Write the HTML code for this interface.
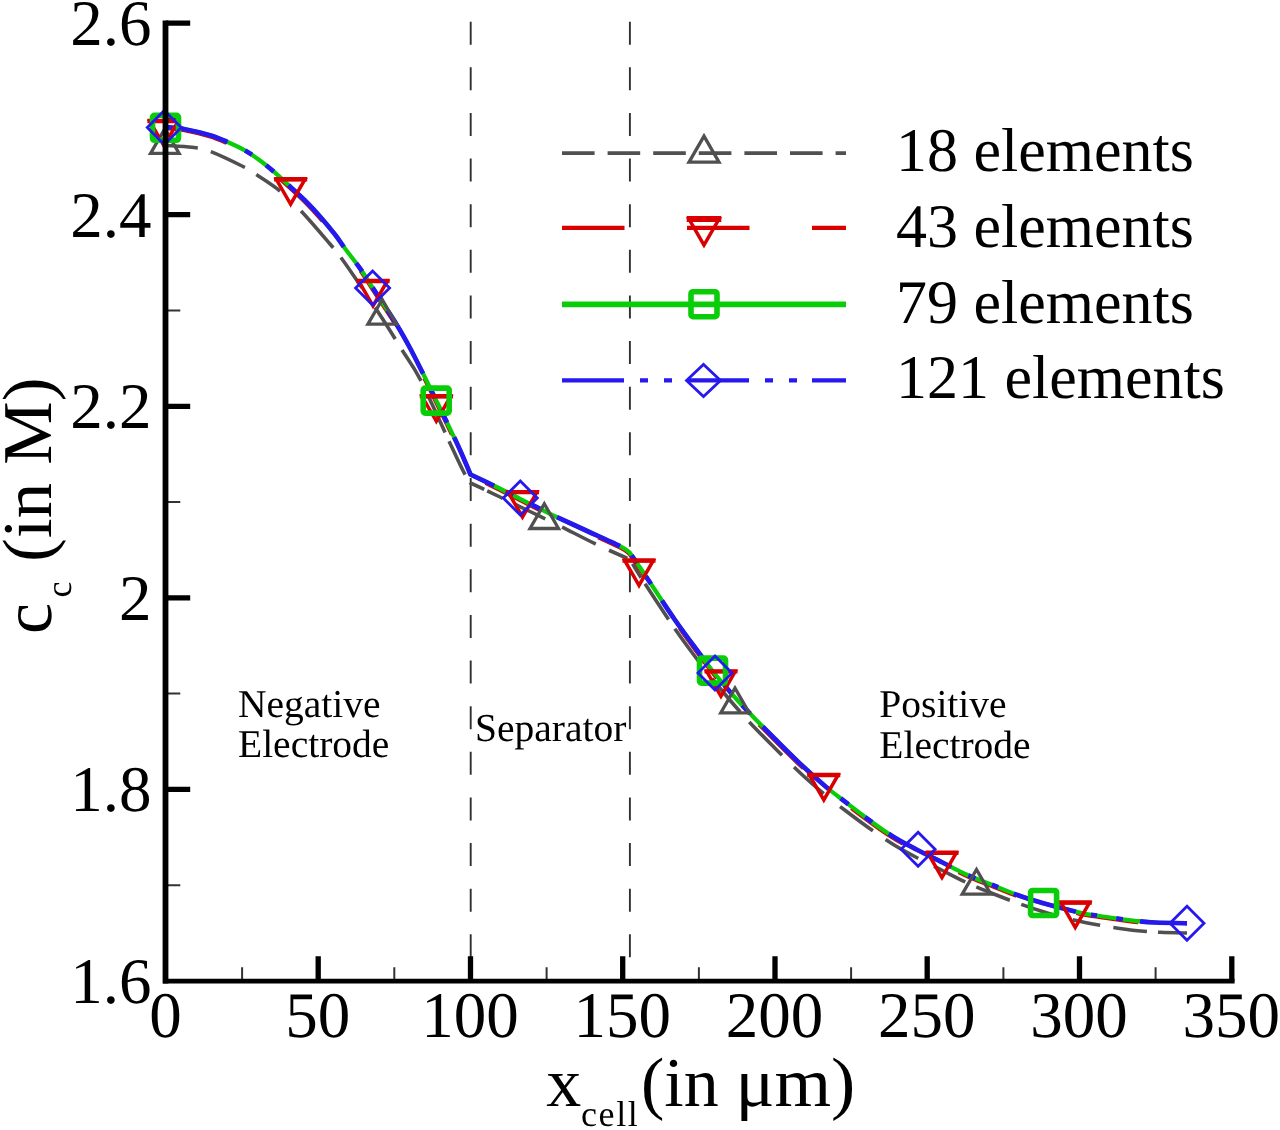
<!DOCTYPE html>
<html lang="en">
<head>
<meta charset="utf-8">
<title>Electrolyte concentration - mesh convergence</title>
<style>
html,body{margin:0;padding:0;background:#fff;}
body{width:1280px;height:1130px;overflow:hidden;font-family:"Liberation Serif",serif;}
svg{display:block;will-change:transform;}
text{font-family:"Liberation Serif",serif;fill:#000;text-rendering:geometricPrecision;}
.tick{font-size:65px;}
.leg{font-size:62px;}
.reg{font-size:39.5px;fill:#1a1a1a;}
.ax{font-size:70px;}
.sub{font-size:36px;}
</style>
</head>
<body>
<svg width="1280" height="1130" viewBox="0 0 1280 1130">
<rect x="0" y="0" width="1280" height="1130" fill="#ffffff"/>
<g stroke="#303030" stroke-width="1.9" fill="none" stroke-dasharray="23 22.63">
<path d="M470.7 21.7V979"/>
<path d="M629.9 21.7V979"/>
</g>
<g stroke="#000" fill="none">
<path d="M166 23.1H190.2M166 214.7H190.2M166 406.3H190.2M166 597.8H190.2M166 789.4H190.2" stroke-width="5.3"/>
<path d="M168 118.9H180.3M168 310.5H180.3M168 502.1H180.3M168 693.6H180.3M168 885.2H180.3" stroke-width="2" stroke="#333"/>
<path d="M318.2 981V956.3M470.5 981V956.3M622.7 981V956.3M775.0 981V956.3M927.2 981V956.3M1079.5 981V956.3M1231.8 981V956.3" stroke-width="5.3"/>
<path d="M242.1 979V967.2M394.3 979V967.2M546.6 979V967.2M698.9 979V967.2M851.1 979V967.2M1003.4 979V967.2M1155.6 979V967.2" stroke-width="2" stroke="#333"/>
</g>
<g class="tick" text-anchor="end">
<text x="151.5" y="44.9">2.6</text>
<text x="151.5" y="236.5">2.4</text>
<text x="151.5" y="428.1">2.2</text>
<text x="151.5" y="619.6">2</text>
<text x="151.5" y="811.2">1.8</text>
<text x="151.5" y="1002.8">1.6</text>
</g>
<g class="tick" text-anchor="middle">
<text x="165.4" y="1037.3">0</text>
<text x="317.7" y="1037.3">50</text>
<text x="470.0" y="1037.3">100</text>
<text x="622.2" y="1037.3">150</text>
<text x="774.5" y="1037.3">200</text>
<text x="926.7" y="1037.3">250</text>
<text x="1079.0" y="1037.3">300</text>
<text x="1231.3" y="1037.3">350</text>
</g>
<g class="reg">
<text x="238" y="716.6">Negative</text>
<text x="238" y="756.8">Electrode</text>
<text x="475" y="740.5">Separator</text>
<text x="879.3" y="717.3">Positive</text>
<text x="879.3" y="757.6">Electrode</text>
</g>
<g class="ax">
<text x="546.2" y="1106">x</text>
<text class="sub" x="581" y="1125.5" letter-spacing="1.6">cell</text>
<text x="641" y="1106">(in</text>
<text transform="translate(735.4 1106) scale(1.04 1)">μm)</text>
</g>
<g class="ax" transform="translate(51.3 634) rotate(-90)">
<text x="0" y="0">c</text>
<text class="sub" x="36.6" y="19.5">c</text>
<text transform="translate(72 0) scale(1.02 1)">(in M)</text>
</g>
<g fill="none" stroke-linejoin="round">
<path d="M166.5 145.5C170.8 145.8 184.8 146.3 192.0 147.3C199.2 148.3 201.7 148.2 210.0 151.3C218.3 154.4 234.2 162.1 242.0 166.0C249.8 169.9 250.7 170.8 257.0 175.0C263.3 179.2 272.5 184.8 280.0 191.0C287.5 197.2 293.7 203.2 302.0 212.0C310.3 220.8 323.3 236.2 330.0 244.0C336.7 251.8 337.0 252.2 342.0 259.0C347.0 265.8 353.3 275.2 360.0 285.0C366.7 294.8 375.0 307.2 382.0 318.0C389.0 328.8 395.7 339.8 402.0 350.0C408.3 360.2 412.2 363.8 420.0 379.0C427.8 394.2 441.8 425.6 449.0 441.0C456.2 456.4 459.9 464.5 463.5 471.5C467.1 478.5 469.3 481.1 470.5 483.0C475.4 485.3 490.1 492.2 500.0 497.0C509.9 501.8 520.0 506.7 530.0 511.5C540.0 516.3 549.2 520.6 560.0 526.0C570.8 531.4 584.7 538.7 595.0 543.7C605.3 548.7 616.2 553.4 622.0 556.0C627.8 558.6 628.7 558.9 630.0 559.5C631.7 562.2 635.8 569.4 640.0 576.0C644.2 582.6 649.2 590.2 655.0 599.0C660.8 607.8 668.3 619.4 675.0 629.0C681.7 638.6 688.5 647.8 695.0 656.5C701.5 665.2 707.3 672.8 714.0 681.0C720.7 689.2 728.2 698.2 735.0 706.0C741.8 713.8 748.3 721.0 755.0 728.0C761.7 735.0 767.5 740.7 775.0 748.2C782.5 755.7 791.7 765.0 800.0 772.8C808.3 780.6 817.5 788.5 825.0 794.8C832.5 801.0 837.9 804.9 845.0 810.3C852.1 815.7 859.6 821.4 867.5 827.0C875.4 832.6 884.2 838.8 892.5 844.0C900.8 849.2 909.2 853.6 917.5 858.0C925.8 862.4 934.2 866.3 942.5 870.5C950.8 874.7 959.2 879.2 967.5 883.0C975.8 886.8 984.2 890.2 992.5 893.5C1000.8 896.8 1009.2 900.0 1017.5 903.0C1025.8 906.0 1034.2 908.9 1042.5 911.5C1050.8 914.1 1060.4 916.7 1067.5 918.5C1074.6 920.3 1077.9 921.1 1085.0 922.5C1092.1 923.9 1101.7 925.7 1110.0 927.0C1118.3 928.3 1126.7 929.6 1135.0 930.5C1143.3 931.4 1151.3 931.9 1160.0 932.3C1168.7 932.7 1182.5 932.9 1187.0 933.0" stroke="#505050" stroke-width="3.6" stroke-dasharray="31.4 13.7 37.2 13.8 28.8 29.0 48.6 12.9 36.9 23.3 37.2 13.3 36.4 16.1 40.7 9.5 37.0 9.4 15.9 3.3 17.2 13.9 33.3 18.9 37.5 14.6 20.0 8.1 16.3 7.4 42.5 11.2 44.5 17.9 43.4 13.4 47.1 16.5 39.9 21.1 40.8 15.2 37.8 17.6 34.9 12.1 36.1 12.2 34.4 19.4 27.9 13.4 34.0 11.0 29.3 50.0"/>
<path d="M166.5 127.2C169.6 127.5 177.8 127.8 185.0 129.2C192.2 130.5 202.9 133.2 210.0 135.3C217.1 137.4 221.7 139.5 227.5 142.0C233.3 144.5 239.6 147.4 245.0 150.5C250.4 153.6 255.0 156.8 260.0 160.5C265.0 164.2 270.0 168.4 275.0 172.7C280.0 177.0 285.0 181.9 290.0 186.5C295.0 191.1 300.0 195.5 305.0 200.5C310.0 205.5 315.0 210.8 320.0 216.5C325.0 222.2 330.8 229.2 335.0 234.5C339.2 239.8 340.8 243.0 345.0 248.6C349.2 254.2 355.4 261.8 360.0 268.3C364.6 274.8 368.3 281.1 372.5 287.5C376.7 293.9 380.8 300.1 385.0 306.5C389.2 312.9 393.3 319.1 397.5 326.0C401.7 332.9 405.8 340.2 410.0 348.0C414.2 355.8 418.3 364.2 422.5 372.5C426.7 380.8 430.8 389.5 435.0 398.0C439.2 406.5 443.3 414.8 447.5 423.5C451.7 432.2 456.2 441.5 460.0 450.0C463.8 458.5 468.8 470.4 470.5 474.5C474.2 476.2 484.2 481.0 492.5 485.0C500.8 489.0 510.4 494.0 520.0 498.8C529.6 503.5 539.2 508.5 550.0 513.8C560.8 519.0 573.3 524.6 585.0 530.0C596.7 535.4 612.6 542.5 620.0 546.2C627.4 550.0 627.9 551.3 629.5 552.3C631.2 554.8 635.8 561.2 640.0 567.5C644.2 573.8 649.2 581.2 655.0 590.0C660.8 598.8 668.3 610.4 675.0 620.0C681.7 629.6 688.5 638.8 695.0 647.5C701.5 656.2 707.1 664.2 713.8 672.5C720.4 680.8 728.1 689.8 735.0 697.5C741.9 705.2 748.3 711.8 755.0 718.7C761.7 725.6 767.5 731.5 775.0 739.0C782.5 746.5 791.7 755.8 800.0 763.6C808.3 771.4 817.5 779.6 825.0 786.0C832.5 792.4 837.9 796.2 845.0 801.7C852.1 807.2 859.6 813.0 867.5 818.8C875.4 824.5 884.2 831.0 892.5 836.2C900.8 841.5 909.2 845.6 917.5 850.0C925.8 854.4 934.2 858.3 942.5 862.5C950.8 866.7 959.2 871.2 967.5 875.0C975.8 878.8 984.2 881.7 992.5 885.0C1000.8 888.3 1009.2 892.0 1017.5 895.0C1025.8 898.0 1034.2 900.6 1042.5 903.0C1050.8 905.4 1060.4 907.7 1067.5 909.5C1074.6 911.3 1077.9 912.4 1085.0 913.8C1092.1 915.1 1101.7 916.3 1110.0 917.5C1118.3 918.7 1127.5 919.9 1135.0 920.8C1142.5 921.6 1146.3 922.1 1155.0 922.5C1163.7 922.9 1181.7 923.2 1187.0 923.3" stroke="#d80000" stroke-width="3.6" stroke-dasharray="62.5 62.5" transform="translate(-0.6 1.3)"/>
<path d="M166.5 127.2C169.6 127.5 177.8 127.8 185.0 129.2C192.2 130.5 202.9 133.2 210.0 135.3C217.1 137.4 221.7 139.5 227.5 142.0C233.3 144.5 239.6 147.4 245.0 150.5C250.4 153.6 255.0 156.8 260.0 160.5C265.0 164.2 270.0 168.4 275.0 172.7C280.0 177.0 285.0 181.9 290.0 186.5C295.0 191.1 300.0 195.5 305.0 200.5C310.0 205.5 315.0 210.8 320.0 216.5C325.0 222.2 330.8 229.2 335.0 234.5C339.2 239.8 340.8 243.0 345.0 248.6C349.2 254.2 355.4 261.8 360.0 268.3C364.6 274.8 368.3 281.1 372.5 287.5C376.7 293.9 380.8 300.1 385.0 306.5C389.2 312.9 393.3 319.1 397.5 326.0C401.7 332.9 405.8 340.2 410.0 348.0C414.2 355.8 418.3 364.2 422.5 372.5C426.7 380.8 430.8 389.5 435.0 398.0C439.2 406.5 443.3 414.8 447.5 423.5C451.7 432.2 456.2 441.5 460.0 450.0C463.8 458.5 468.8 470.4 470.5 474.5C474.2 476.2 484.2 481.0 492.5 485.0C500.8 489.0 510.4 494.0 520.0 498.8C529.6 503.5 539.2 508.5 550.0 513.8C560.8 519.0 573.3 524.6 585.0 530.0C596.7 535.4 612.6 542.5 620.0 546.2C627.4 550.0 627.9 551.3 629.5 552.3C631.2 554.8 635.8 561.2 640.0 567.5C644.2 573.8 649.2 581.2 655.0 590.0C660.8 598.8 668.3 610.4 675.0 620.0C681.7 629.6 688.5 638.8 695.0 647.5C701.5 656.2 707.1 664.2 713.8 672.5C720.4 680.8 728.1 689.8 735.0 697.5C741.9 705.2 748.3 711.8 755.0 718.7C761.7 725.6 767.5 731.5 775.0 739.0C782.5 746.5 791.7 755.8 800.0 763.6C808.3 771.4 817.5 779.6 825.0 786.0C832.5 792.4 837.9 796.2 845.0 801.7C852.1 807.2 859.6 813.0 867.5 818.8C875.4 824.5 884.2 831.0 892.5 836.2C900.8 841.5 909.2 845.6 917.5 850.0C925.8 854.4 934.2 858.3 942.5 862.5C950.8 866.7 959.2 871.2 967.5 875.0C975.8 878.8 984.2 881.7 992.5 885.0C1000.8 888.3 1009.2 892.0 1017.5 895.0C1025.8 898.0 1034.2 900.6 1042.5 903.0C1050.8 905.4 1060.4 907.7 1067.5 909.5C1074.6 911.3 1077.9 912.4 1085.0 913.8C1092.1 915.1 1101.7 916.3 1110.0 917.5C1118.3 918.7 1127.5 919.9 1135.0 920.8C1142.5 921.6 1146.3 922.1 1155.0 922.5C1163.7 922.9 1181.7 923.2 1187.0 923.3" stroke="#0acd0a" stroke-width="4.2"/>
<path d="M166.5 127.2C169.6 127.5 177.8 127.8 185.0 129.2C192.2 130.5 202.9 133.2 210.0 135.3C217.1 137.4 221.7 139.5 227.5 142.0C233.3 144.5 239.6 147.4 245.0 150.5C250.4 153.6 255.0 156.8 260.0 160.5C265.0 164.2 270.0 168.4 275.0 172.7C280.0 177.0 285.0 181.9 290.0 186.5C295.0 191.1 300.0 195.5 305.0 200.5C310.0 205.5 315.0 210.8 320.0 216.5C325.0 222.2 330.8 229.2 335.0 234.5C339.2 239.8 340.8 243.0 345.0 248.6C349.2 254.2 355.4 261.8 360.0 268.3C364.6 274.8 368.3 281.1 372.5 287.5C376.7 293.9 380.8 300.1 385.0 306.5C389.2 312.9 393.3 319.1 397.5 326.0C401.7 332.9 405.8 340.2 410.0 348.0C414.2 355.8 418.3 364.2 422.5 372.5C426.7 380.8 430.8 389.5 435.0 398.0C439.2 406.5 443.3 414.8 447.5 423.5C451.7 432.2 456.2 441.5 460.0 450.0C463.8 458.5 468.8 470.4 470.5 474.5C474.2 476.2 484.2 481.0 492.5 485.0C500.8 489.0 510.4 494.0 520.0 498.8C529.6 503.5 539.2 508.5 550.0 513.8C560.8 519.0 573.3 524.6 585.0 530.0C596.7 535.4 612.6 542.5 620.0 546.2C627.4 550.0 627.9 551.3 629.5 552.3C631.2 554.8 635.8 561.2 640.0 567.5C644.2 573.8 649.2 581.2 655.0 590.0C660.8 598.8 668.3 610.4 675.0 620.0C681.7 629.6 688.5 638.8 695.0 647.5C701.5 656.2 707.1 664.2 713.8 672.5C720.4 680.8 728.1 689.8 735.0 697.5C741.9 705.2 748.3 711.8 755.0 718.7C761.7 725.6 767.5 731.5 775.0 739.0C782.5 746.5 791.7 755.8 800.0 763.6C808.3 771.4 817.5 779.6 825.0 786.0C832.5 792.4 837.9 796.2 845.0 801.7C852.1 807.2 859.6 813.0 867.5 818.8C875.4 824.5 884.2 831.0 892.5 836.2C900.8 841.5 909.2 845.6 917.5 850.0C925.8 854.4 934.2 858.3 942.5 862.5C950.8 866.7 959.2 871.2 967.5 875.0C975.8 878.8 984.2 881.7 992.5 885.0C1000.8 888.3 1009.2 892.0 1017.5 895.0C1025.8 898.0 1034.2 900.6 1042.5 903.0C1050.8 905.4 1060.4 907.7 1067.5 909.5C1074.6 911.3 1077.9 912.4 1085.0 913.8C1092.1 915.1 1101.7 916.3 1110.0 917.5C1118.3 918.7 1127.5 919.9 1135.0 920.8C1142.5 921.6 1146.3 922.1 1155.0 922.5C1163.7 922.9 1181.7 923.2 1187.0 923.3" stroke="#2618ee" stroke-width="4.7" stroke-dasharray="63.1 19.5 8.1 17.8 9.8 20.0 83.4 19.9 10.3 19.4 13.6 13.7 72.5 15.9 11.4 13.6 13.7 16.2 67.0 13.0 8.3 21.3 10.6 17.2 69.1 15.1 9.7 15.7 9.4 19.9 72.6 32.1 10.7 16.4 11.6 18.0 90.3 16.0 9.8 20.8 8.7 20.1 70.9 19.0 7.6 17.8 6.7 16.8 64.8 15.7 5.8 19.5 6.6 17.3 47.4 50.0"/>
</g>
<g fill="none" stroke-linejoin="miter">
<path d="M164.8 128.7 L150.6 153.4 L179.1 153.4 ZM382.2 299.5 L367.9 324.2 L396.4 324.2 ZM544.3 503.8 L530.0 528.5 L558.5 528.5 ZM735.0 688.1 L720.8 712.8 L749.2 712.8 ZM976.5 869.5 L962.2 894.2 L990.8 894.2 Z" stroke="#505050" stroke-width="3.3"/>
<path d="M164.0 145.9 L149.8 121.2 L178.2 121.2 ZM290.6 204.2 L276.4 179.5 L304.9 179.5 ZM373.0 305.9 L358.8 281.2 L387.2 281.2 ZM436.3 421.2 L422.1 396.5 L450.6 396.5 ZM522.5 517.0 L508.2 492.3 L536.8 492.3 ZM639.0 585.4 L624.8 560.7 L653.2 560.7 ZM721.0 696.3 L706.8 671.6 L735.2 671.6 ZM823.8 799.9 L809.5 775.2 L838.0 775.2 ZM942.0 877.6 L927.8 852.9 L956.2 852.9 ZM1075.2 927.4 L1061.0 902.7 L1089.5 902.7 Z" stroke="#d80000" stroke-width="3.5"/>
<path d="M147.4 121.0 H180.6M274.1 179.3 H307.2M356.4 281.0 H389.6M419.8 396.3 H452.9M505.9 492.1 H539.0M622.5 560.5 H655.5M704.5 671.4 H737.5M807.2 775.0 H840.3M925.5 852.7 H958.5M1058.7 902.5 H1091.8" stroke="#d80000" stroke-width="4.4"/>
<g stroke="#0acd0a" stroke-width="5.6"><rect x="152.5" y="115.3" width="26.0" height="25.0" rx="2" ry="2"/><rect x="423.2" y="388.1" width="26.0" height="25.0" rx="2" ry="2"/><rect x="699.5" y="658.1" width="26.0" height="25.0" rx="2" ry="2"/><rect x="1030.6" y="890.5" width="26.0" height="25.0" rx="2" ry="2"/></g>
<path d="M147.3 127.4 L164.3 110.4 L181.3 127.4 L164.3 144.4 ZM355.6 288.0 L372.6 271.0 L389.6 288.0 L372.6 305.0 ZM503.3 498.0 L520.3 481.0 L537.3 498.0 L520.3 515.0 ZM698.0 673.0 L715.0 656.0 L732.0 673.0 L715.0 690.0 ZM901.1 849.2 L918.1 832.2 L935.1 849.2 L918.1 866.2 ZM1170.0 923.3 L1187.0 906.3 L1204.0 923.3 L1187.0 940.3 Z" stroke="#2618ee" stroke-width="2.8"/>
</g>
<g stroke="#000" fill="none">
<path d="M165.5 20.5V983.5" stroke-width="5.8"/>
<path d="M163 981.1H1234.6" stroke-width="4.8"/>
</g>
<g fill="none">
<path d="M562 153.1H846" stroke="#505050" stroke-width="3.9" stroke-dasharray="32.6 13"/>
<path d="M562 227.8H846" stroke="#d80000" stroke-width="4.2" stroke-dasharray="62.5 62.5"/>
<path d="M562 304.4H846" stroke="#0acd0a" stroke-width="5.8"/>
<path d="M562 380.3H846" stroke="#2618ee" stroke-width="4.2" stroke-dasharray="62 16 8 16 8 15"/>
<path d="M704.0 136.1 L689.0 162.1 L719.0 162.1 Z" stroke="#505050" stroke-width="3.3"/>
<path d="M704.0 245.1 L689.0 219.1 L719.0 219.1 Z" stroke="#d80000" stroke-width="3.5"/>
<path d="M686.7 218.9 H721.3" stroke="#d80000" stroke-width="6"/>
<g stroke="#0acd0a" stroke-width="5.6"><rect x="691.0" y="291.7" width="26.0" height="25.0" rx="2" ry="2"/></g>
<path d="M686.5 380.5 L703.5 364.5 L720.5 380.5 L703.5 396.5 Z" stroke="#2618ee" stroke-width="2.8"/>
</g>
<g class="leg">
<text x="896" y="171.3">18 elements</text>
<text x="896" y="246.9">43 elements</text>
<text x="896" y="322.5">79 elements</text>
<text x="896" y="398.4">121 elements</text>
</g>
</svg>
</body>
</html>
